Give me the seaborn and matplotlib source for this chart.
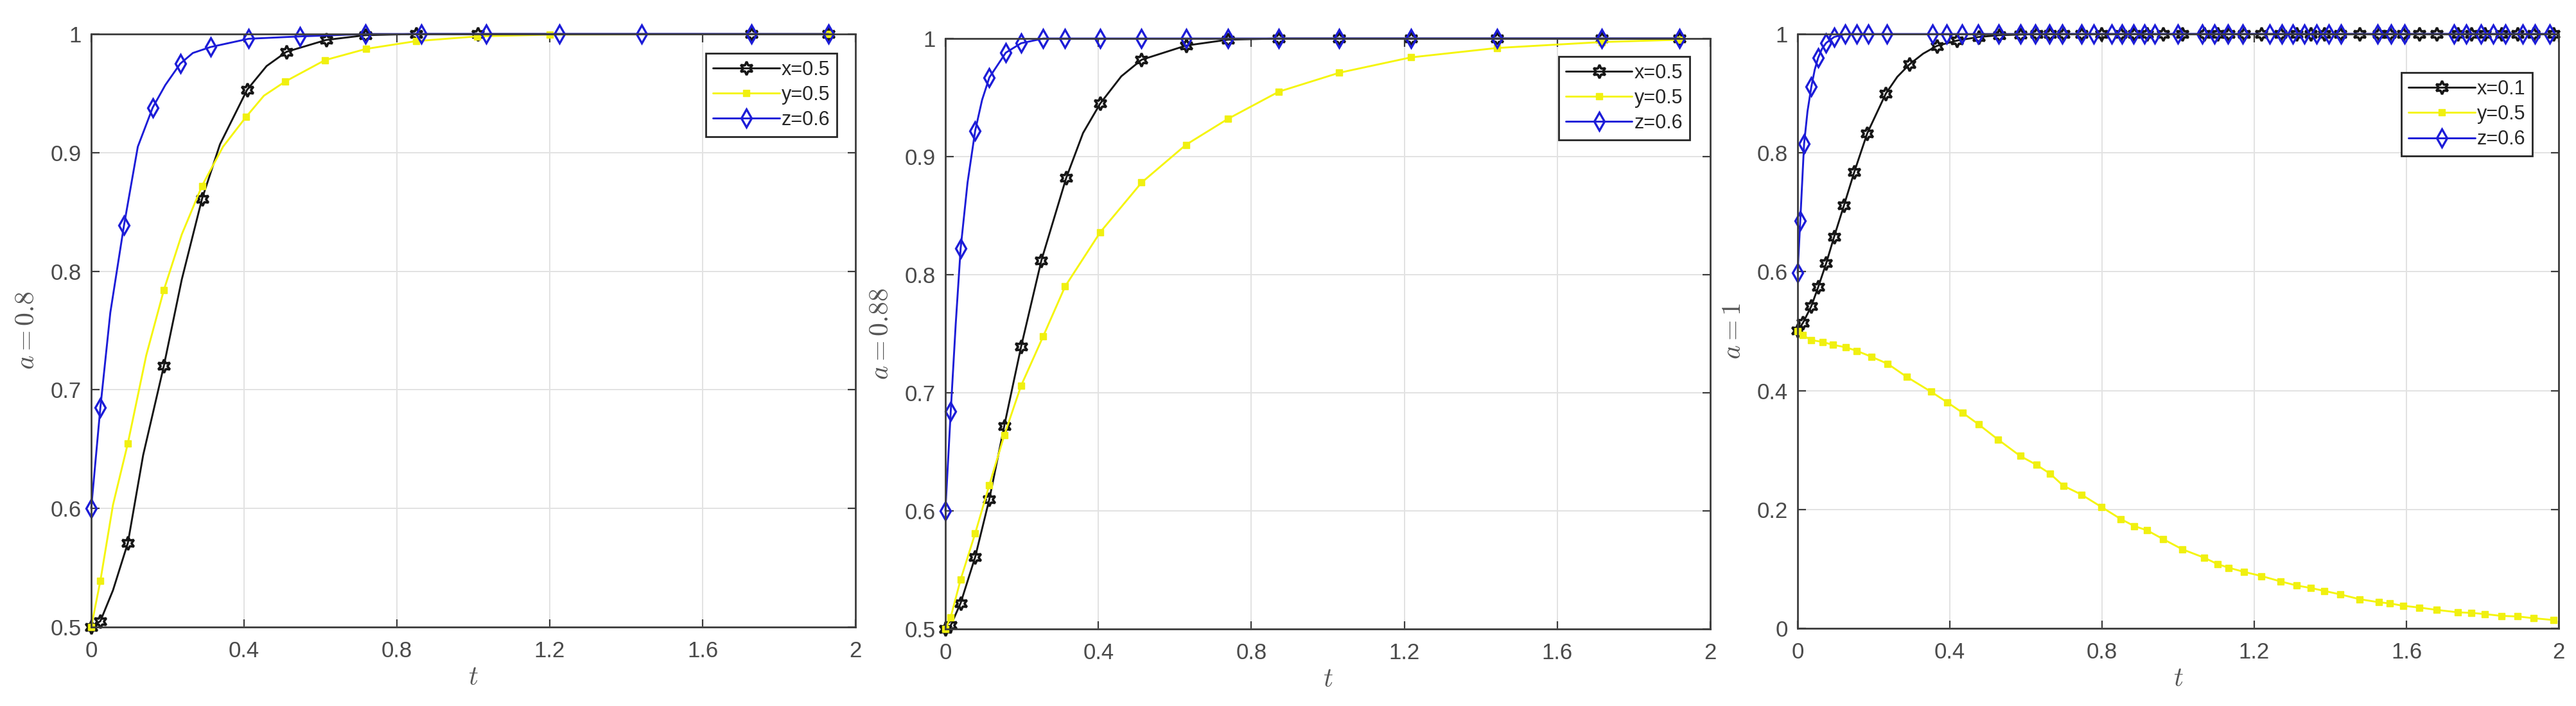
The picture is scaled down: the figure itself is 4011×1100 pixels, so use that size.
import matplotlib
matplotlib.use("Agg")
import seaborn as sns
from matplotlib import pyplot as plt


# panel 1 : a = 0.8  (marker points, then extra points read along the curve between markers)
t_p1_x = [0, 0.024, 0.096, 0.19, 0.29, 0.408, 0.511, 0.615, 0.718, 0.85, 1.011, 1.727, 1.93]
p1_x = [0.5, 0.505, 0.571, 0.72, 0.861, 0.953, 0.985, 0.995, 0.999, 1.0, 1.0, 1.0, 1.0]
t_p1_x_mid = [0.057, 0.136, 0.237, 0.337, 0.459]
p1_x_mid = [0.531, 0.645, 0.793, 0.907, 0.973]
t_p1_y = [0, 0.024, 0.096, 0.19, 0.29, 0.405, 0.508, 0.612, 0.72, 0.85, 1.01, 1.2, 1.93]
p1_y = [0.5, 0.539, 0.655, 0.784, 0.872, 0.93, 0.96, 0.978, 0.9875, 0.994, 0.998, 0.9995, 1.0]
t_p1_y_mid = [0.057, 0.144, 0.237, 0.345, 0.452]
p1_y_mid = [0.603, 0.729, 0.831, 0.905, 0.948]
t_p1_z = [0, 0.024, 0.086, 0.161, 0.233, 0.312, 0.412, 0.547, 0.718, 0.864, 1.034, 1.225, 1.44, 1.727, 1.93]
p1_z = [0.6, 0.685, 0.839, 0.938, 0.975, 0.989, 0.996, 0.998, 1.0, 1.0, 1.0, 1.0, 1.0, 1.0, 1.0]
t_p1_z_mid = [0.05, 0.122, 0.194, 0.266]
p1_z_mid = [0.765, 0.905, 0.957, 0.984]

# panel 2 : a = 0.88
t_p2_x = [0, 0.014, 0.04, 0.078, 0.115, 0.154, 0.198, 0.251, 0.316, 0.405, 0.513, 0.629, 0.739,
          0.872, 1.03, 1.217, 1.443, 1.716, 1.92]
p2_x = [0.5, 0.503, 0.522, 0.561, 0.61, 0.672, 0.739, 0.812, 0.882, 0.945, 0.982, 0.994, 0.999,
        1.0, 1.0, 1.0, 1.0, 1.0, 1.0]
t_p2_x_mid = [0.36, 0.46]
p2_x_mid = [0.92, 0.968]
t_p2_y = [0, 0.014, 0.04, 0.078, 0.115, 0.154, 0.198, 0.256, 0.313, 0.405, 0.513, 0.629, 0.739,
          0.872, 1.03, 1.217, 1.443, 1.716, 1.92]
p2_y = [0.5, 0.51, 0.542, 0.581, 0.622, 0.664, 0.706, 0.748, 0.79, 0.836, 0.878, 0.91, 0.932,
        0.955, 0.971, 0.984, 0.992, 0.997, 0.999]
t_p2_y_mid = []
p2_y_mid = []
t_p2_z = [0, 0.014, 0.04, 0.078, 0.115, 0.158, 0.198, 0.256, 0.313, 0.405, 0.513, 0.629, 0.739,
          0.872, 1.03, 1.217, 1.443, 1.716, 1.92]
p2_z = [0.6, 0.684, 0.8225, 0.922, 0.967, 0.988, 0.996, 1.0, 1.0, 1.0, 1.0, 1.0, 1.0,
        1.0, 1.0, 1.0, 1.0, 1.0, 1.0]
t_p2_z_mid = [0.027, 0.058, 0.096]
p2_z_mid = [0.758, 0.878, 0.948]

# panel 3 : a = 1
t_p3_x = [0, 0.014, 0.036, 0.054, 0.075, 0.096, 0.122, 0.149, 0.183, 0.232, 0.294, 0.366, 0.419,
          0.476, 0.53, 0.585, 0.628, 0.664, 0.698, 0.746, 0.799, 0.849, 0.885, 0.918, 0.961, 1.011,
          1.068, 1.104, 1.133, 1.173, 1.219, 1.269, 1.312, 1.348, 1.384, 1.427, 1.477, 1.527, 1.556,
          1.591, 1.634, 1.68, 1.735, 1.771, 1.806, 1.849, 1.892, 1.935, 1.986]
p3_x = [0.501, 0.514, 0.542, 0.574, 0.614, 0.659, 0.712, 0.768, 0.833, 0.9, 0.949, 0.98, 0.989,
        0.995, 0.998, 0.999, 1.0, 1.0, 1.0, 1.0, 1.0, 1.0, 1.0, 1.0, 1.0, 1.0,
        1.0, 1.0, 1.0, 1.0, 1.0, 1.0, 1.0, 1.0, 1.0, 1.0, 1.0, 1.0, 1.0,
        1.0, 1.0, 1.0, 1.0, 1.0, 1.0, 1.0, 1.0, 1.0, 1.0]
t_p3_x_mid = [0.262, 0.33]
p3_x_mid = [0.928, 0.967]
t_p3_y = [0, 0.014, 0.036, 0.065, 0.093, 0.126, 0.155, 0.194, 0.237, 0.287, 0.351, 0.394, 0.433,
          0.476, 0.526, 0.585, 0.628, 0.664, 0.698, 0.746, 0.799, 0.849, 0.885, 0.918, 0.961, 1.011,
          1.068, 1.104, 1.133, 1.173, 1.219, 1.269, 1.312, 1.348, 1.384, 1.427, 1.477, 1.527, 1.556,
          1.591, 1.634, 1.68, 1.735, 1.771, 1.806, 1.849, 1.892, 1.935, 1.986]
p3_y = [0.5, 0.493, 0.485, 0.482, 0.477, 0.473, 0.467, 0.457, 0.445, 0.423, 0.398, 0.38, 0.363,
        0.343, 0.318, 0.29, 0.275, 0.26, 0.24, 0.225, 0.204, 0.184, 0.172, 0.165, 0.15, 0.133,
        0.119, 0.108, 0.102, 0.095, 0.088, 0.079, 0.072, 0.068, 0.063, 0.057, 0.049, 0.044, 0.042,
        0.038, 0.035, 0.031, 0.027, 0.026, 0.024, 0.021, 0.02, 0.017, 0.014]
t_p3_y_mid = []
p3_y_mid = []
t_p3_z = [0, 0.007, 0.017, 0.036, 0.054, 0.075, 0.096, 0.125, 0.155, 0.186, 0.235, 0.354, 0.392,
          0.432, 0.475, 0.528, 0.586, 0.625, 0.662, 0.695, 0.746, 0.778, 0.825, 0.852, 0.883, 0.911,
          0.939, 0.999, 1.063, 1.095, 1.131, 1.17, 1.24, 1.273, 1.301, 1.332, 1.364, 1.396, 1.428,
          1.524, 1.559, 1.595, 1.725, 1.757, 1.796, 1.828, 1.86, 1.905, 1.937, 1.976]
p3_z = [0.598, 0.686, 0.815, 0.911, 0.96, 0.985, 0.995, 1.0, 1.0, 1.0, 1.0, 1.0, 1.0,
        1.0, 1.0, 1.0, 1.0, 1.0, 1.0, 1.0, 1.0, 1.0, 1.0, 1.0, 1.0, 1.0,
        1.0, 1.0, 1.0, 1.0, 1.0, 1.0, 1.0, 1.0, 1.0, 1.0, 1.0, 1.0, 1.0,
        1.0, 1.0, 1.0, 1.0, 1.0, 1.0, 1.0, 1.0, 1.0, 1.0, 1.0]
t_p3_z_mid = [0.026, 0.045, 0.064]
p3_z_mid = [0.87, 0.94, 0.975]

panel_labels = [r'$a = 0.8$', r'$a = 0.88$', r'$a = 1$']
legend_labels = [['x=0.5', 'y=0.5', 'z=0.6'], ['x=0.5', 'y=0.5', 'z=0.6'], ['x=0.1', 'y=0.5', 'z=0.6']]
y_ticks = [[0.5, 0.6, 0.7, 0.8, 0.9, 1.0], [0.5, 0.6, 0.7, 0.8, 0.9, 1.0], [0, 0.2, 0.4, 0.6, 0.8, 1.0]]
y_tick_labels = [['0.5', '0.6', '0.7', '0.8', '0.9', '1'], ['0.5', '0.6', '0.7', '0.8', '0.9', '1'],
                 ['0', '0.2', '0.4', '0.6', '0.8', '1']]
y_limits = [(0.5, 1.0), (0.5, 1.0), (0.0, 1.0)]
x_ticks = [0, 0.4, 0.8, 1.2, 1.6, 2]
x_tick_labels = ['0', '0.4', '0.8', '1.2', '1.6', '2']

series = [
    [(t_p1_x, p1_x, t_p1_x_mid, p1_x_mid), (t_p1_y, p1_y, t_p1_y_mid, p1_y_mid),
     (t_p1_z, p1_z, t_p1_z_mid, p1_z_mid)],
    [(t_p2_x, p2_x, t_p2_x_mid, p2_x_mid), (t_p2_y, p2_y, t_p2_y_mid, p2_y_mid),
     (t_p2_z, p2_z, t_p2_z_mid, p2_z_mid)],
    [(t_p3_x, p3_x, t_p3_x_mid, p3_x_mid), (t_p3_y, p3_y, t_p3_y_mid, p3_y_mid),
     (t_p3_z, p3_z, t_p3_z_mid, p3_z_mid)],
]

# axes boxes in pixels (left, top, right, bottom) of a 4012x1100 figure
boxes = [(142, 53, 1332, 977), (1472, 60, 2663, 980), (2799, 53, 3984, 979)]
legend_anchor = [(0.9756, 0.9675), (0.973, 0.9696), (0.9654, 0.935)]

styles = [
    dict(color='#161616', marker=(6, 1, 0), markersize=15, markerfacecolor='none',
         markeredgecolor='#161616', markeredgewidth=2.6),
    dict(color='#f5f50c', marker='s', markersize=7.5, markerfacecolor='#f0f010',
         markeredgecolor='#f0f010', markeredgewidth=1),
    dict(color='#1c1cd8', marker='d', markersize=14, markerfacecolor='none',
         markeredgecolor='#1c1cd8', markeredgewidth=2.4),
]


def merge_curve(t_mark, v_mark, t_mid, v_mid):
    # line runs through marker points and the extra curve points; markers only on the former
    pts = sorted([(a, b, True) for a, b in zip(t_mark, v_mark)] +
                 [(a, b, False) for a, b in zip(t_mid, v_mid)])
    tt = [p[0] for p in pts]
    vv = [p[1] for p in pts]
    marks = [k for k, p in enumerate(pts) if p[2]]
    return tt, vv, marks


sns.set_style('whitegrid')
plt.rcParams['font.family'] = ['Liberation Sans', 'DejaVu Sans']
plt.rcParams['mathtext.fontset'] = 'cm'

W, H = 4012, 1100
fig = plt.figure(figsize=(W / 100, H / 100), dpi=100)

for i in range(3):
    l, t, r, b = boxes[i]
    ax = fig.add_axes([l / W, 1 - b / H, (r - l) / W, (b - t) / H])

    for j in range(3):
        tt, vv, marks = merge_curve(*series[i][j])
        sns.lineplot(x=tt, y=vv, ax=ax, label=legend_labels[i][j], linewidth=2.1,
                     estimator=None, sort=False, clip_on=False, markevery=marks, **styles[j])

    ax.set_xlim(0, 2)
    ax.set_ylim(*y_limits[i])
    ax.set_xticks(x_ticks)
    ax.set_xticklabels(x_tick_labels)
    ax.set_yticks(y_ticks[i])
    ax.set_yticklabels(y_tick_labels[i])

    ax.grid(True, color='#e2e2e2', linewidth=1.4)
    ax.set_axisbelow(True)
    for pos in ["top", "bottom", "right", "left"]:
        ax.spines[pos].set_visible(True)
        ax.spines[pos].set_color('#3c3c3c')
        ax.spines[pos].set_linewidth(2.0)

    ax.tick_params(axis='both', direction='in', length=9, width=1.6, color='#3c3c3c',
                   top=True, right=True, bottom=True, left=True,
                   labelsize=25, labelcolor='#4a4a4a')
    ax.tick_params(axis='x', pad=15)
    ax.tick_params(axis='y', pad=11)

    ax.set_xlabel(r'$t$', fontsize=30, color='#555555', labelpad=4)
    ax.set_ylabel(panel_labels[i], fontsize=30, color='#555555', labelpad=12)

    leg = ax.legend(loc='upper right', bbox_to_anchor=legend_anchor[i], borderaxespad=0,
                    fontsize=22, handlelength=3.4, handletextpad=0.1, labelspacing=0.3,
                    borderpad=0.35, fancybox=False, framealpha=1, edgecolor='#262626')
    leg.get_frame().set_linewidth(2.0)
    for txt in leg.get_texts():
        txt.set_color('#262626')

fig.savefig('out.png', dpi=100)
